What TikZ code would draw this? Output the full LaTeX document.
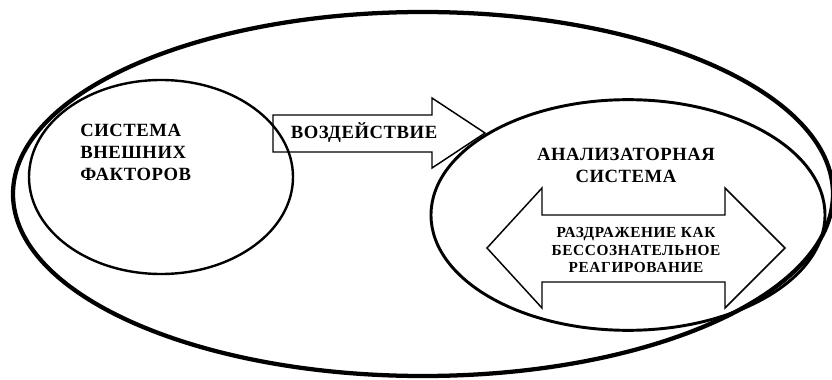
\documentclass[tikz,border=0pt]{standalone}
\usepackage{fontspec}
\setmainfont{Liberation Serif}
\usetikzlibrary{shapes.geometric, positioning}

\begin{document}
\begin{tikzpicture}[
		x=0.75pt, y=0.75pt,
		oval/.style={ellipse, draw, inner sep=0pt},
		block/.style={draw, line width=1.1pt, line join=miter},
		bigcaps/.style={font=\fontsize{14}{16.5}\selectfont\bfseries\addfontfeatures{LetterSpace=3}, inner sep=0pt},
		smallcaps/.style={font=\fontsize{11.5}{13}\selectfont\bfseries\addfontfeatures{LetterSpace=4}, inner sep=0pt, align=center}
		]
		\useasboundingbox (0,0) rectangle (832,379);
		
		\node[oval, line width=3.2pt, minimum width=615pt, minimum height=273pt] (outer) at (423,185) {};
		\node[oval, line width=1.8pt, minimum width=198pt, minimum height=145.5pt] (ext) at (161,202) {};
		\node[oval, line width=2.2pt, minimum width=295.5pt, minimum height=173pt] (anl) at (628,164) {};
		
		\node[bigcaps, align=left, anchor=west] (extlabel) at (80,227) {СИСТЕМА\\ВНЕШНИХ\\ФАКТОРОВ};
		\node[bigcaps, align=center] (anllabel) at (626,214) {АНАЛИЗАТОРНАЯ\\СИСТЕМА};
		
		% impact arrow
		\draw[block] (273,227) -- (432,227) -- (432,211) -- (485,246) -- (432,281) -- (432,264) -- (273,264) -- cycle;
		\node[bigcaps] (impact) at (364,246) {ВОЗДЕЙСТВИЕ};
		
		% double arrow
		\draw[block] (487,131) -- (542,191) -- (542,164) -- (725,164) -- (725,191) -- (785,131)
			-- (725,71) -- (725,97) -- (542,97) -- (542,71) -- cycle;
		\node[smallcaps] (irritation) at (636,129) {РАЗДРАЖЕНИЕ КАК\\БЕССОЗНАТЕЛЬНОЕ\\РЕАГИРОВАНИЕ};
\end{tikzpicture}
\end{document}
